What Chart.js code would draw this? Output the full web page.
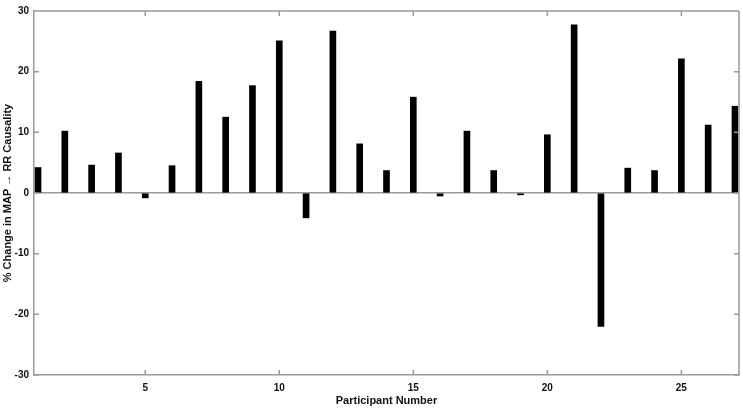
<!DOCTYPE html>
<html>
<head>
<meta charset="utf-8">
<script src="https://cdn.jsdelivr.net/npm/chart.js@4/dist/chart.umd.min.js"></script>
<style>
  html, body { margin: 0; padding: 0; background: #fff; }
  #wrap { width: 743px; height: 409px; position: relative; }
</style>
</head>
<body>
<div id="wrap"><canvas id="barChart"></canvas></div>
<script>
// participant numbers and % change in MAP -> RR causality
const participants = [1, 2, 3, 4, 5, 6, 7, 8, 9, 10, 11, 12, 13, 14, 15, 16, 17, 18, 19, 20, 21, 22, 23, 24, 25, 26, 27];
const pctChange    = [4.2, 10.2, 4.6, 6.6, -0.8, 4.5, 18.4, 12.5, 17.7, 25.1, -4.1, 26.7, 8.1, 3.7, 15.8, -0.5, 10.2, 3.7, -0.3, 9.6, 27.7, -22.0, 4.1, 3.7, 22.1, 11.2, 14.3];
const xTicks = [5, 10, 15, 20, 25];
const yTicks = [-30, -20, -10, 0, 10, 20, 30];

const AXIS_GREY = '#9a9a9a';
const FONT = "'Liberation Sans', Arial, sans-serif";

Chart.defaults.font.family = FONT;
Chart.defaults.color = '#111';

// MATLAB-style box with ticks pointing inward on all four sides
const boxTicks = {
    id: 'boxTicks',
    afterDraw(chart) {
        const { ctx, chartArea: a, scales: { x, y } } = chart;
        const len = 5;
        ctx.save();
        ctx.strokeStyle = AXIS_GREY;
        ctx.lineWidth = 1.5;
        ctx.beginPath();
        ctx.moveTo(a.left, a.top); ctx.lineTo(a.right, a.top);
        ctx.moveTo(a.right, a.top); ctx.lineTo(a.right, a.bottom);
        xTicks.forEach(v => {
            const px = x.getPixelForValue(v);
            ctx.moveTo(px, a.bottom); ctx.lineTo(px, a.bottom - len);
            ctx.moveTo(px, a.top); ctx.lineTo(px, a.top + len);
        });
        yTicks.forEach(v => {
            const py = y.getPixelForValue(v);
            ctx.moveTo(a.left, py); ctx.lineTo(a.left + len, py);
            ctx.moveTo(a.right, py); ctx.lineTo(a.right - len, py);
        });
        ctx.stroke();
        ctx.restore();
    }
};

const points = participants.map((p, i) => ({ x: p, y: pctChange[i] }));

new Chart(document.getElementById('barChart'), {
    type: 'bar',
    data: {
        datasets: [{
            data: points,
            backgroundColor: '#000',
            borderWidth: 0,
            barThickness: 6,
        }]
    },
    options: {
        responsive: true,
        maintainAspectRatio: false,
        animation: false,
        layout: { padding: { top: 6, right: 4, left: 0, bottom: 0 } },
        plugins: {
            legend: { display: false },
            tooltip: { enabled: false }
        },
        scales: {
            x: {
                type: 'linear',
                min: 0.85,
                max: 27.15,
                offset: false,
                afterFit: s => { s.height = 34; },
                afterBuildTicks: s => { s.ticks = xTicks.map(v => ({ value: v })); },
                grid: { display: false, drawTicks: false },
                border: { color: AXIS_GREY, width: 1.5 },
                ticks: {
                    padding: 7,
                    maxRotation: 0,
                    font: { size: 10, weight: 'bold' },
                    color: '#111'
                },
                title: {
                    display: true,
                    text: 'Participant Number',
                    font: { size: 11, weight: 'bold' },
                    color: '#111',
                    padding: { top: 0, bottom: 1 }
                }
            },
            y: {
                min: -30,
                max: 30,
                afterFit: s => { s.width = 34; },
                afterBuildTicks: s => { s.ticks = yTicks.map(v => ({ value: v })); },
                grid: {
                    drawTicks: false,
                    color: c => (c.tick && c.tick.value === 0 ? AXIS_GREY : 'rgba(0,0,0,0)'),
                    lineWidth: 1.5
                },
                border: { color: AXIS_GREY, width: 1.5 },
                ticks: {
                    padding: 5,
                    font: { size: 10, weight: 'bold' },
                    color: '#111'
                },
                title: {
                    display: true,
                    text: '% Change in MAP \u2192 RR Causality',
                    font: { size: 11, weight: 'bold' },
                    color: '#111',
                    padding: { top: 1, bottom: 0 }
                }
            }
        }
    },
    plugins: [boxTicks]
});
</script>
</body>
</html>
